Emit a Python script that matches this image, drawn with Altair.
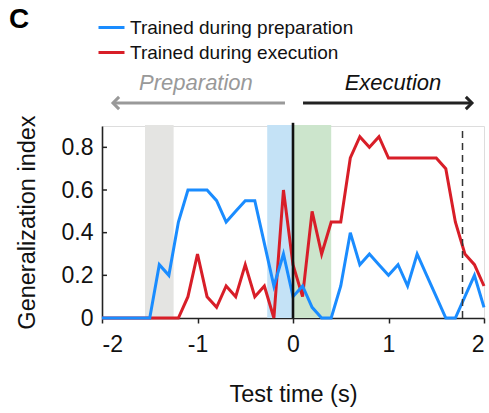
import altair as alt
import pandas as pd

# ---- data ----
test_time = [-2.0, -1.9, -1.8, -1.7, -1.6, -1.5, -1.4, -1.3, -1.2, -1.1, -1.0,
             -0.9, -0.8, -0.7, -0.6, -0.5, -0.4, -0.3, -0.2, -0.1, 0.0,
             0.1, 0.2, 0.3, 0.4, 0.5, 0.6, 0.7, 0.8, 0.9, 1.0,
             1.1, 1.2, 1.3, 1.4, 1.5, 1.6, 1.7, 1.8, 1.9, 2.0]
trained_prep = [0, 0, 0, 0, 0, 0, 0.25, 0.2, 0.45, 0.6, 0.6,
                0.6, 0.55, 0.45, 0.5, 0.55, 0.55, 0.35, 0.15, 0.3, 0.1,
                0.15, 0.05, 0, 0, 0.15, 0.4, 0.25, 0.3, 0.25, 0.2,
                0.25, 0.15, 0.3, 0.2, 0.1, 0, 0, 0.1, 0.2, 0.05]
trained_exec = [0, 0, 0, 0, 0, 0, 0, 0, 0, 0.1, 0.3,
                0.1, 0.05, 0.15, 0.1, 0.25, 0.1, 0.15, 0, 0.6, 0.25,
                0.1, 0.5, 0.3, 0.45, 0.45, 0.75, 0.85, 0.8, 0.85, 0.75,
                0.75, 0.75, 0.75, 0.75, 0.75, 0.7, 0.45, 0.3, 0.25, 0.15]
series_names = ["Trained during preparation", "Trained during execution"]
series_colors = ["#1a8cff", "#d81e28"]

band_start = [-1.55, -0.27, 0.0]
band_end = [-1.25, 0.0, 0.40]
band_colors = ["#e4e4e2", "#c4e2f6", "#cce5cc"]

x_ticks = [-2, -1, 0, 1, 2]
y_ticks = [0, 0.2, 0.4, 0.6, 0.8]
inner_ticks = [0.2, 0.4, 0.6, 0.8]
movement_onset = 1.775

FONT = "Liberation Sans"
XT = "Test time (s)"
YT = "Generalization index"

xs = alt.Scale(domain=[-2, 2], nice=False, zero=False)
ys = alt.Scale(domain=[0, 0.9], nice=False, zero=False)

x_axis = alt.Axis(values=x_ticks, labelExpr="'' + datum.value", title=XT,
                  grid=False, tickSize=5, tickWidth=1.5, tickColor="#222222",
                  domainColor="#222222", domainWidth=1.6, labelFontSize=23,
                  labelFont=FONT, labelColor="#111111", labelPadding=10,
                  titleFont=FONT, titleFontSize=23.5, titleFontWeight="normal",
                  titleColor="#111111", titlePadding=26)
y_axis = alt.Axis(values=y_ticks,
                  labelExpr="datum.value == 0 ? '0' : format(datum.value, '.1f')",
                  title=YT, grid=False, tickSize=0,
                  domainColor="#222222", domainWidth=1.6, labelFontSize=23,
                  labelFont=FONT, labelColor="#111111", labelPadding=9,
                  titleFont=FONT, titleFontSize=23.5, titleFontWeight="normal",
                  titleColor="#111111", titlePadding=22)


def X(field):
    return alt.X(field, scale=xs, title=XT)


def Y(field):
    return alt.Y(field, scale=ys, title=YT)


# ---- tables ----
lines_df = pd.DataFrame({
    "t": test_time * 2,
    "v": trained_exec + trained_prep,
    "series": [series_names[1]] * len(test_time) + [series_names[0]] * len(test_time),
    "order": [0] * len(test_time) + [1] * len(test_time),
})
bands_df = pd.DataFrame({"x0": band_start, "x1": band_end, "c": band_colors,
                         "y0": [0] * 3, "y1": [0.905] * 3})
ticks_df = pd.DataFrame({"y": inner_ticks, "x0": [-2] * 4, "x1": [-1.948] * 4})

bands = alt.Chart(bands_df).mark_rect().encode(
    x=alt.X("x0:Q", scale=xs, axis=x_axis),
    x2="x1:Q",
    y=alt.Y("y0:Q", scale=ys, axis=y_axis),
    y2="y1:Q",
    color=alt.Color("c:N", scale=None),
)

onset = alt.Chart(pd.DataFrame({"x": [0.0], "y0": [0], "y1": [0.915]})).mark_rule(
    color="#111111", strokeWidth=2.6
).encode(x=X("x:Q"), y=Y("y0:Q"), y2="y1:Q")

dashed = alt.Chart(pd.DataFrame({"x": [movement_onset], "y0": [0], "y1": [0.9]})).mark_rule(
    color="#333333", strokeWidth=1.5, strokeDash=[7, 5]
).encode(x=X("x:Q"), y=Y("y0:Q"), y2="y1:Q")

yticks = alt.Chart(ticks_df).mark_rule(color="#222222", strokeWidth=1.5).encode(
    x=X("x0:Q"), x2="x1:Q", y=Y("y:Q"),
)

lines = alt.Chart(lines_df).mark_line(strokeWidth=3, strokeJoin="miter").encode(
    x=X("t:Q"),
    y=Y("v:Q"),
    color=alt.Color("series:N", scale=alt.Scale(domain=series_names, range=series_colors),
                    legend=alt.Legend(title=None, orient="none", legendX=-5, legendY=-113,
                                      symbolType="stroke", symbolSize=676,
                                      symbolStrokeWidth=3, labelFont=FONT,
                                      labelFontSize=19, labelColor="#111111",
                                      labelOffset=4, labelLimit=0, rowPadding=-5)),
    order="order:Q",
    detail="series:N",
)

# ---- phase arrows ----
arrows_df = pd.DataFrame({"x0": [-0.084, 0.105], "x1": [-1.885, 1.874],
                          "y": [1.008, 1.008], "c": ["#999999", "#222222"],
                          "shape": ["M1,-1L0,0L1,1", "M-1,-1L0,0L-1,1"]})
arrow_shafts = alt.Chart(arrows_df).mark_rule(strokeWidth=3).encode(
    x=X("x0:Q"), x2="x1:Q", y=Y("y:Q"),
    color=alt.Color("c:N", scale=None),
)
arrow_heads = alt.Chart(arrows_df).mark_point(filled=False, strokeWidth=3, size=150,
                                              strokeJoin="miter", opacity=1).encode(
    x=X("x1:Q"), y=Y("y:Q"),
    color=alt.Color("c:N", scale=None),
    shape=alt.Shape("shape:N", scale=None),
)
labels_df = pd.DataFrame({"x": [-1.016, 1.047], "y": [1.069, 1.069],
                          "txt": ["Preparation", "Execution"], "c": ["#999999", "#111111"]})
phase_labels = alt.Chart(labels_df).mark_text(font=FONT, fontSize=22, fontStyle="italic",
                                              align="center", baseline="alphabetic").encode(
    x=X("x:Q"), y=Y("y:Q"),
    text="txt:N",
    color=alt.Color("c:N", scale=None),
)
panel_df = pd.DataFrame({"x": [-2.975], "y": [1.359], "txt": ["C"]})
panel = alt.Chart(panel_df).mark_text(font=FONT, fontSize=28, fontWeight="bold",
                                      align="left", baseline="alphabetic", color="#000000").encode(
    x=X("x:Q"), y=Y("y:Q"),
    text="txt:N",
)

chart = alt.layer(
    bands, lines, onset, dashed, yticks, arrow_shafts, arrow_heads, phase_labels, panel
).properties(
    width=382, height=192,
    autosize=alt.AutoSizeParams(type="none"),
    padding={"left": 102, "top": 126, "right": 5, "bottom": 95},
).configure_view(stroke=None).configure(background="white")

chart.save("out.html", embed_options={"renderer": "svg", "actions": False})
